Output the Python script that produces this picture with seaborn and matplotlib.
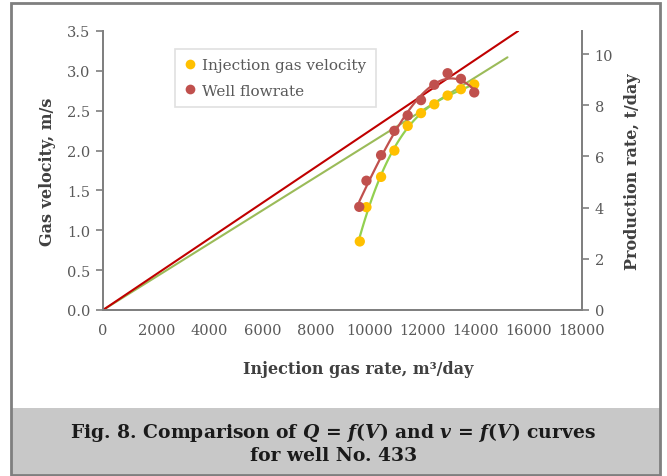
import seaborn as sns
import matplotlib.pyplot as plt
from matplotlib.lines import Line2D
from matplotlib.patches import Rectangle

# injection gas velocity (left axis)
rate_v = [9650, 9900, 10450, 10950, 11450, 11950, 12450, 12950, 13450, 13950]
velocity = [0.86, 1.29, 1.67, 2.00, 2.31, 2.47, 2.58, 2.69, 2.77, 2.83]

# well flowrate (right axis)
rate_q = [9630, 9900, 10450, 10950, 11450, 11950, 12450, 12950, 13450, 13950]
flowrate = [4.03, 5.05, 6.05, 7.00, 7.60, 8.20, 8.80, 9.25, 9.03, 8.50]

# straight reference lines
line_v_x = [0, 15200]
line_v_y = [0, 3.17]
line_q_x = [0, 15600]
line_q_y = [0, 10.9]

x_ticks = list(range(0, 18001, 2000))
v_ticks = [0.0, 0.5, 1.0, 1.5, 2.0, 2.5, 3.0, 3.5]
q_ticks = [0, 2, 4, 6, 8, 10]

sns.set_style('white')
plt.rcParams['font.family'] = ['DejaVu Serif']
plt.rcParams['mathtext.fontset'] = 'custom'
plt.rcParams['mathtext.it'] = 'DejaVu Serif:italic:bold'
plt.rcParams['mathtext.rm'] = 'DejaVu Serif:bold'

grey = '#7f7f7f'
tick_col = '#595959'
label_col = '#404040'

fig = plt.figure(figsize=(6.67, 4.77), dpi=100)
ax = fig.add_axes([103 / 667, 1 - 311 / 477, (582 - 103) / 667, (311 - 32) / 477])
ax2 = ax.twinx()

sns.lineplot(x=line_v_x, y=line_v_y, ax=ax, color='#9BBB59', linewidth=1.5)
sns.regplot(x=rate_v, y=velocity, ax=ax, order=3, ci=None, scatter=False,
            line_kws={'color': '#92D050', 'linewidth': 1.6})
sns.scatterplot(x=rate_v, y=velocity, ax=ax, color='#FFC000', s=55,
                edgecolor='none', zorder=5)

sns.lineplot(x=line_q_x, y=line_q_y, ax=ax2, color='#C00000', linewidth=1.5)
sns.regplot(x=rate_q, y=flowrate, ax=ax2, order=3, ci=None, scatter=False,
            line_kws={'color': '#C0504D', 'linewidth': 1.6})
sns.scatterplot(x=rate_q, y=flowrate, ax=ax2, color='#C0504D', s=55,
                edgecolor='none', zorder=5)

ax.set_xlim(0, 18000)
ax.set_ylim(0, 3.5)
ax2.set_ylim(0, 10.9)
ax.set_xticks(x_ticks)
ax.set_yticks(v_ticks)
ax.set_yticklabels([f'{v:.1f}' for v in v_ticks])
ax2.set_yticks(q_ticks)

for a in (ax, ax2):
    a.spines['top'].set_visible(False)
    for side in ('left', 'bottom', 'right'):
        a.spines[side].set_color(grey)
        a.spines[side].set_linewidth(1.3)
    a.grid(False)

ax.tick_params(axis='y', direction='out', length=5, width=1.2, color=grey,
               labelcolor=tick_col, labelsize=10.5, pad=4)
ax.tick_params(axis='x', direction='inout', length=7, width=1.2, color=grey,
               labelcolor=tick_col, labelsize=10.5, pad=6)
ax2.tick_params(axis='y', direction='out', length=5, width=1.2, color=grey,
                labelcolor=tick_col, labelsize=10.5, pad=4)

ax.set_xlabel('Injection gas rate, m³/day', fontsize=11.5, fontweight='bold',
              color=label_col)
ax.xaxis.set_label_coords(0.532, -0.178)
ax.set_ylabel('Gas velocity, m/s', fontsize=11.5, fontweight='bold',
              color=label_col, labelpad=8)
ax2.set_ylabel('Production rate, t/day', fontsize=11.5, fontweight='bold',
               color=label_col, labelpad=8)

handles = [
    Line2D([], [], linestyle='none', marker='o', markersize=7,
           markerfacecolor='#FFC000', markeredgecolor='none'),
    Line2D([], [], linestyle='none', marker='o', markersize=7,
           markerfacecolor='#C0504D', markeredgecolor='none'),
]
leg = ax2.legend(handles, ['Injection gas velocity', 'Well flowrate'],
                 loc='upper left', bbox_to_anchor=(175 / 667, 1 - 50 / 477),
                 bbox_transform=fig.transFigure, borderaxespad=0,
                 fontsize=11, frameon=True, fancybox=False,
                 handlelength=0.8, handletextpad=0.4, labelspacing=0.75,
                 borderpad=0.6)
leg.get_frame().set_edgecolor('#D9D9D9')
leg.get_frame().set_linewidth(1.2)
for t in leg.get_texts():
    t.set_color(tick_col)

# caption band and outer frame
fig.patches.append(Rectangle((11 / 667, 1 - 476 / 477), (660 - 11) / 667, 67 / 477,
                             transform=fig.transFigure, facecolor='#C8C8C8',
                             edgecolor='none', zorder=0))
fig.patches.append(Rectangle((11 / 667, 1 - 476 / 477), (660 - 11) / 667, 472 / 477,
                             transform=fig.transFigure, fill=False,
                             edgecolor=grey, linewidth=2, zorder=1))

fig.text(0.5, 1 - 433 / 477,
         'Fig. 8. Comparison of $Q$ = $f$($V$) and $v$ = $f$($V$) curves',
         ha='center', va='center', fontsize=13.5, fontweight='bold', color='#1a1a1a')
fig.text(0.5, 1 - 456 / 477, 'for well No. 433',
         ha='center', va='center', fontsize=13.5, fontweight='bold', color='#1a1a1a')

fig.savefig('out.png', dpi=100)
